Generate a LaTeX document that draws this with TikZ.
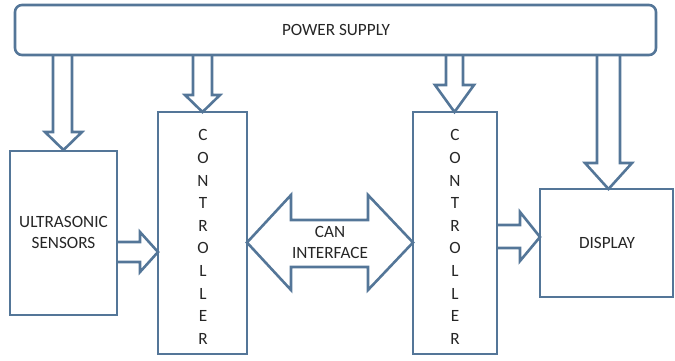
\documentclass[tikz,border=0pt]{standalone}
\usepackage{fontspec}
\setmainfont{Carlito}
\begin{document}
\begin{tikzpicture}[x=1pt,y=-1pt,
  ln/.style={draw=lc,line width=2.6pt,line join=miter},
  blk/.style={ln,fill=white},
  lbl/.style={font=\fontsize{17.2}{21}\selectfont,text=black!85,inner sep=0pt},
  vtxt/.style={font=\fontsize{17.2}{22.6}\selectfont,text=black!85,align=center,inner sep=0pt}]
\definecolor{lc}{RGB}{84,118,152}
\useasboundingbox (0,0) rectangle (675,360);
% power supply
\draw[blk,rounded corners=7pt] (15,5) rectangle (656,55);
\node[lbl] (ps) at (336,30) {POWER SUPPLY};
% boxes
\draw[blk] (10,151) rectangle (117,315);
\node[lbl,align=center] (us) at (63.5,232.5) {ULTRASONIC\\SENSORS};
\draw[blk] (158,112) rectangle (247,354);
\node[vtxt] (c1) at (203,237) {C\\O\\N\\T\\R\\O\\L\\L\\E\\R};
\draw[blk] (413,112) rectangle (497,354);
\node[vtxt] (c2) at (455,237) {C\\O\\N\\T\\R\\O\\L\\L\\E\\R};
\draw[blk] (540,189) rectangle (673,297);
\node[lbl] (dp) at (607,243) {DISPLAY};
% power arrows
\draw[ln] (53,55)--(53,132)--(45,132)--(63.5,150)--(82,132)--(72,132)--(72,55);
\draw[ln] (193,55)--(193,95)--(185,95)--(202.5,112)--(220,95)--(212,95)--(212,55);
\draw[ln] (446,55)--(446,85)--(435,85)--(454.5,112)--(474,85)--(463,85)--(463,55);
\draw[ln] (597,55)--(597,163)--(585,163)--(608.5,189)--(632,163)--(620,163)--(620,55);
% sensors -> controller
\draw[ln] (117,242)--(140,242)--(140,232)--(158,252)--(140,272)--(140,262)--(117,262);
% CAN interface
\draw[ln] (247,242.5)--(291,195)--(291,220)--(368,220)--(368,195)--(413,242.5)--(368,290)--(368,267)--(291,267)--(291,290)--cycle;
\node[lbl,align=center] (can) at (330,242) {CAN\\INTERFACE};
% controller -> display
\draw[ln] (497,225)--(520,225)--(520,212)--(540,237)--(520,261)--(520,248)--(497,248);
\end{tikzpicture}
\end{document}
